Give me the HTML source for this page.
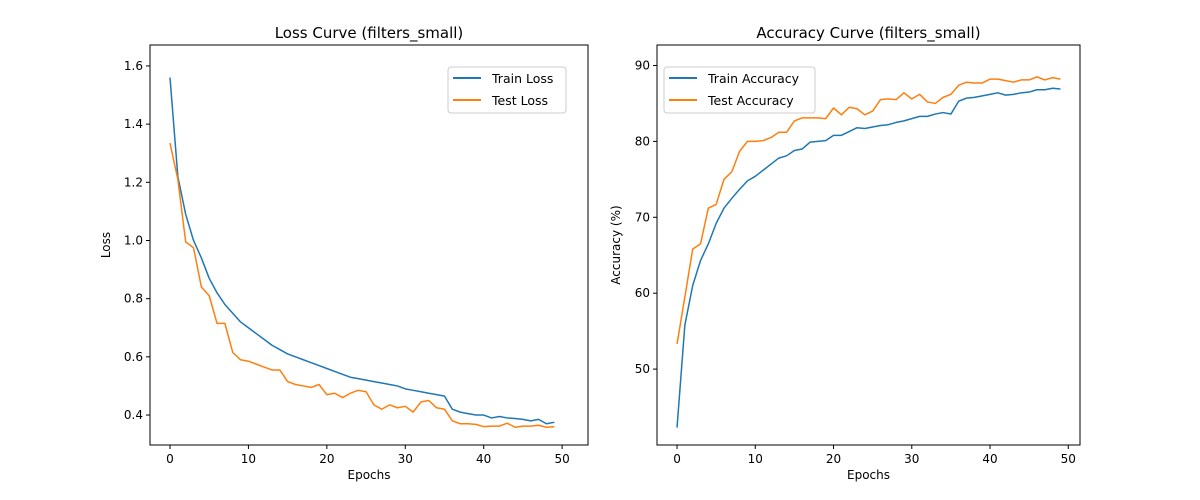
<!DOCTYPE html>
<html><head><meta charset="utf-8"><style>body{margin:0;background:#fff}svg{display:block;font-family:"DejaVu Sans","Liberation Sans",sans-serif}</style></head>
<body>
<svg id="fig" width="1200" height="500"></svg>
<script>
const epochs = Array.from({length:50},(_,i)=>i);
const trainLoss=[1.56,1.22,1.09,1.00,0.94,0.87,0.82,0.78,0.75,0.72,0.70,0.68,0.66,0.64,0.625,0.61,0.60,0.59,0.58,0.57,0.56,0.55,0.54,0.53,0.525,0.52,0.515,0.51,0.505,0.50,0.49,0.485,0.48,0.475,0.47,0.465,0.42,0.41,0.405,0.40,0.40,0.39,0.395,0.39,0.388,0.385,0.38,0.385,0.37,0.375];
const testLoss=[1.335,1.21,0.995,0.975,0.84,0.81,0.715,0.715,0.615,0.59,0.585,0.575,0.565,0.555,0.555,0.515,0.505,0.5,0.495,0.505,0.47,0.475,0.46,0.475,0.485,0.48,0.435,0.42,0.435,0.425,0.43,0.41,0.445,0.45,0.425,0.42,0.38,0.37,0.37,0.368,0.36,0.362,0.362,0.372,0.358,0.362,0.362,0.365,0.358,0.36];
const trainAcc=[42.3,55.8,61,64.3,66.5,69.2,71.2,72.5,73.7,74.8,75.4,76.2,77.0,77.8,78.1,78.8,79.0,79.9,80.0,80.1,80.8,80.8,81.3,81.8,81.7,81.9,82.1,82.2,82.5,82.7,83.0,83.3,83.3,83.6,83.8,83.6,85.3,85.7,85.8,86.0,86.2,86.4,86.1,86.2,86.4,86.5,86.8,86.8,87.0,86.9];
const testAcc=[53.3,59.5,65.8,66.5,71.2,71.7,75.0,76.0,78.7,80.0,80.0,80.1,80.5,81.2,81.2,82.7,83.1,83.1,83.1,83.0,84.4,83.5,84.5,84.3,83.5,84.0,85.5,85.6,85.5,86.4,85.6,86.2,85.2,85.0,85.8,86.2,87.4,87.8,87.7,87.7,88.2,88.2,88.0,87.8,88.1,88.1,88.5,88.1,88.4,88.2];
const xTicks=[0,10,20,30,40,50];
const lossTicks=[0.4,0.6,0.8,1.0,1.2,1.4,1.6];
const accTicks=[50,60,70,80,90];
const svg=document.getElementById('fig');const NS='http://www.w3.org/2000/svg';
function mk(t,a,txt){const e=document.createElementNS(NS,t);for(const k in a)e.setAttribute(k,a[k]);if(txt!==undefined)e.textContent=txt;svg.appendChild(e);return e;}
function panel(o){
 const {L,R,T,B,x0,x1,y0,y1,pfx}=o;
 const sx=v=>L+(v-x0)/(x1-x0)*(R-L), sy=v=>B-(v-y0)/(y1-y0)*(B-T);
 const f=mk('rect',{x:L,y:T,width:R-L,height:B-T,fill:'none',stroke:'#000','stroke-width':1});
 
 xTicks.forEach(v=>{const x=sx(v);mk('line',{x1:x,x2:x,y1:B,y2:B+4,stroke:'#000'});const t=mk('text',{x:x,y:B+18,'text-anchor':'middle','font-size':12},String(v));
  });
 o.yt.forEach(v=>{const y=sy(v);mk('line',{x1:L-4,x2:L,y1:y,y2:y,stroke:'#000'});const t=mk('text',{x:L-7,y:y+4,'text-anchor':'end','font-size':12},o.fmt(v));
  });
 const ttl=mk('text',{x:(L+R)/2,y:T-7,'text-anchor':'middle','font-size':15},o.title);
 
 const xl=mk('text',{x:(L+R)/2,y:B+34,'text-anchor':'middle','font-size':12},'Epochs');
 
 const yx=o.ylx;const yl=mk('text',{x:yx,y:(T+B)/2,'text-anchor':'middle','font-size':12,transform:`rotate(-90 ${yx} ${(T+B)/2})`},o.ylabel);
 
 o.series.forEach(s=>{const p=mk('polyline',{points:epochs.map((e,i)=>sx(e)+','+sy(s.d[i])).join(' '),fill:'none',stroke:s.c,'stroke-width':1.5,'stroke-linejoin':'round'});
  });
 const lg=o.leg;const bw=o.lw;
 const lr=mk('rect',{x:lg[0],y:lg[1],width:bw,height:46,rx:3,fill:'#fff',stroke:'#ccc'});
 
 o.series.forEach((s,i)=>{const y=lg[1]+11+i*22;mk('line',{x1:lg[0]+5,x2:lg[0]+33,y1:y,y2:y,stroke:s.c,'stroke-width':2});
  const t=mk('text',{x:lg[0]+44,y:y+5,'font-size':12.5},s.label);});
}
panel({L:150,R:588,T:45,B:445,x0:-2.55,x1:53.3,y0:0.297,y1:1.672,yt:lossTicks,fmt:v=>v.toFixed(1),pfx:'loss',title:'Loss Curve (filters_small)',ylabel:'Loss',ylx:110,leg:[448,67],lw:118,
 series:[{d:trainLoss,c:'#1f77b4',n:'train-loss-line',label:'Train Loss'},{d:testLoss,c:'#ff7f0e',n:'test-loss-line',label:'Test Loss'}]});
panel({L:657,R:1080,T:45,B:445,x0:-2.56,x1:51.5,y0:40,y1:92.7,yt:accTicks,fmt:v=>String(v),pfx:'acc',title:'Accuracy Curve (filters_small)',ylabel:'Accuracy (%)',ylx:620,leg:[664,67],lw:151,
 series:[{d:trainAcc,c:'#1f77b4',n:'train-accuracy-line',label:'Train Accuracy'},{d:testAcc,c:'#ff7f0e',n:'test-accuracy-line',label:'Test Accuracy'}]});
</script>
</body></html>
